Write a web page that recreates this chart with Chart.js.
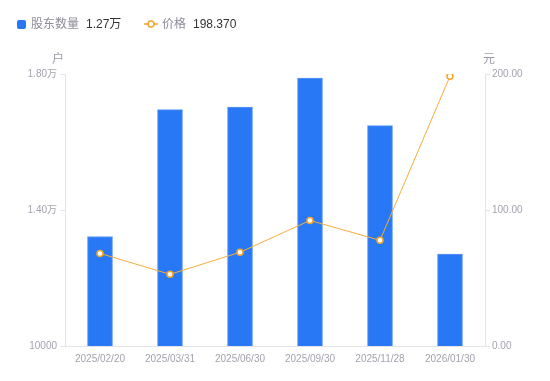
<!DOCTYPE html>
<html><head><meta charset="utf-8">
<script src="https://cdn.jsdelivr.net/npm/chart.js@4/dist/chart.umd.min.js"></script>
<style>
html,body{margin:0;padding:0;background:#fff;}
#wrap{position:relative;width:550px;height:381px;}
#c{position:absolute;left:0;top:0;}
.lg{position:absolute;top:17px;font-family:"Liberation Sans","Noto Sans CJK SC",sans-serif;font-size:12px;line-height:15px;white-space:nowrap;}
.lab{color:#8c8c99;}
.val{color:#333;margin-left:7px;}
.sq{position:absolute;left:17px;top:20px;width:9px;height:9px;background:#2878f6;border-radius:2px;}
.ax{position:absolute;top:49px;font-family:"Noto Sans CJK SC",sans-serif;font-size:12px;color:#9a9aa6;}
</style></head>
<body><div id="wrap">
<canvas id="c" width="550" height="381"></canvas>
<div class="sq"></div>
<div class="lg" style="left:31px"><span class="lab">股东数量</span><span class="val">1.27万</span></div>
<svg style="position:absolute;left:144px;top:19px" width="14" height="10"><line x1="0" y1="5" x2="14" y2="5" stroke="#f5a623" stroke-width="1.5"/><circle cx="7" cy="5" r="3" fill="#fff" stroke="#f5a623" stroke-width="1.5"/></svg>
<div class="lg" style="left:162px"><span class="lab">价格</span><span class="val">198.370</span></div>
<div class="ax" style="left:52px">户</div>
<div class="ax" style="left:483px">元</div>
</div>
<script>
const categories = ["2025/02/20","2025/03/31","2025/06/30","2025/09/30","2025/11/28","2026/01/30"];
const holders = [13220, 16950, 17030, 17880, 16480, 12700];
const prices = [68.1, 52.7, 68.9, 92.3, 77.7, 198.37];
const leftTicks = [10000, 14000, 18000];
const rightTicks = [0, 100, 200];

const FONT = '"Liberation Sans", Arial, "Noto Sans CJK SC", sans-serif';
const TICKC = '#a3a3ae';
const AXC = '#e3e3e8';

new Chart(document.getElementById('c'), {
  data: {
    labels: categories,
    datasets: [
      { type: 'line', data: prices, yAxisID: 'yR', borderColor: '#f7ac3b', borderWidth: 1,
        pointRadius: 3, pointBorderWidth: 1.5, pointBackgroundColor: '#fff', pointBorderColor: '#f5a623',
        tension: 0, order: 0 },
      { type: 'bar', data: holders, yAxisID: 'yL', backgroundColor: '#2878f6',
        borderColor: '#5a97f7', borderWidth: 1, barThickness: 25, order: 1 }
    ]
  },
  options: {
    responsive: false, animation: false,
    layout: { padding: { top: 74, left: 0, right: 0, bottom: 0 } },
    plugins: { legend: { display: false }, tooltip: { enabled: false } },
    scales: {
      x: {
        grid: { display: false, drawTicks: false },
        border: { color: AXC },
        ticks: { color: TICKC, font: { family: FONT, size: 10 }, padding: 7, maxRotation: 0 },
        afterFit: s => { s.height = 35; }
      },
      yL: {
        position: 'left', min: 10000, max: 18000,
        afterBuildTicks: s => { s.ticks = leftTicks.map(v => ({ value: v })); },
        grid: { drawOnChartArea: false, tickLength: 5, color: AXC },
        border: { color: AXC },
        ticks: { color: TICKC, font: { family: FONT, size: 10 }, padding: 3,
          callback: v => v === 10000 ? '10000' : (v / 10000).toFixed(2) + '万' },
        afterFit: s => { s.width = 65; }
      },
      yR: {
        position: 'right', min: 0, max: 200,
        afterBuildTicks: s => { s.ticks = rightTicks.map(v => ({ value: v })); },
        grid: { drawOnChartArea: false, tickLength: 5, color: AXC },
        border: { color: AXC },
        ticks: { color: TICKC, font: { family: FONT, size: 10 }, padding: 2,
          callback: v => v.toFixed(2) },
        afterFit: s => { s.width = 65; }
      }
    }
  }
});
</script>
</body></html>
